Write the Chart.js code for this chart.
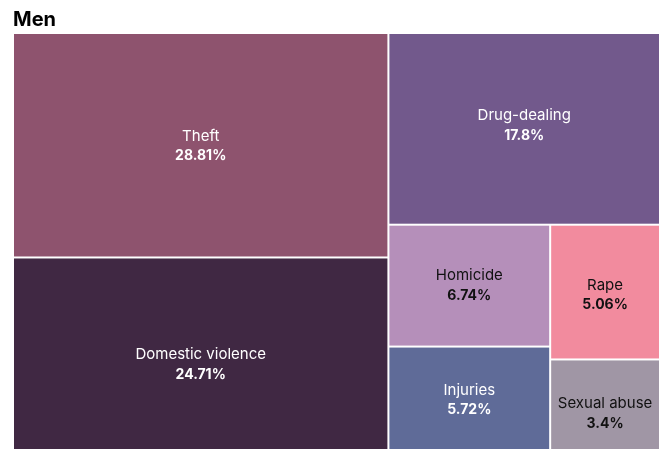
<!DOCTYPE html>
<html>
<head>
<meta charset="utf-8">
<script src="https://cdn.jsdelivr.net/npm/chart.js@4.4.1/dist/chart.umd.min.js"></script>
<style>
  html,body{margin:0;padding:0;background:#fff;}
  #wrap{width:662px;height:450px;position:relative;}
</style>
</head>
<body>
<div id="wrap"><canvas id="chart"></canvas></div>
<script>
// data (share of crimes, men)
const categories = ['Theft','Domestic violence','Drug-dealing','Homicide','Injuries','Rape','Sexual abuse'];
const shares = [28.81, 24.71, 17.8, 6.74, 5.72, 5.06, 3.4];
const shareLabels = ['28.81%','24.71%','17.8%','6.74%','5.72%','5.06%','3.4%'];

// styles
const cellColors = ['#8e536e','#402843','#72598c','#b58fba','#5f6b98','#f28b9e','#a096a5'];
const textColors = ['#fff','#fff','#fff','#111','#fff','#111','#111'];
const labelShift = [1, 11, -3, 0, 2, 3, 9];   // small vertical nudges of the labels, px

// squarified treemap layout, values sorted desc
function worst(row, side){
  const s = row.reduce((a,b)=>a+b,0);
  const mx = Math.max(...row), mn = Math.min(...row);
  return Math.max(side*side*mx/(s*s), (s*s)/(side*side*mn));
}
function squarify(vals, x, y, w, h){
  const total = vals.reduce((a,b)=>a+b,0);
  const areas = vals.map(v => v/total*w*h);
  const out = [];
  let i = 0;
  while (i < areas.length){
    const side = Math.min(w,h);
    const row = [areas[i]]; let j = i+1;
    while (j < areas.length && worst([...row, areas[j]], side) <= worst(row, side)){ row.push(areas[j]); j++; }
    const sum = row.reduce((a,b)=>a+b,0);
    if (w >= h){
      const cw = sum/h; let cy = y;
      row.forEach(a => { const ch = a/cw; out.push({x, y:cy, w:cw, h:ch}); cy += ch; });
      x += cw; w -= cw;
    } else {
      const rh = sum/w; let cx = x;
      row.forEach(a => { const rw = a/rh; out.push({x:cx, y, w:rw, h:rh}); cx += rw; });
      y += rh; h -= rh;
    }
    i = j;
  }
  return out;
}

const treemap = {
  id: 'treemap',
  afterDatasetsDraw(chart){
    const {ctx, chartArea:a, scales:{x:sx, y:sy}} = chart;
    const W = a.right - a.left, H = a.bottom - a.top;
    // layout in unit space (aspect kept), then through the scales
    const rects = squarify(shares, 0, 0, W/H, 1).map(r => ({
      x0: sx.getPixelForValue(r.x/(W/H)), x1: sx.getPixelForValue((r.x+r.w)/(W/H)),
      y0: sy.getPixelForValue(r.y), y1: sy.getPixelForValue(r.y+r.h)
    }));
    ctx.save();
    rects.forEach((r,k) => {
      ctx.fillStyle = cellColors[k];
      ctx.fillRect(r.x0+1, r.y0+1, r.x1-r.x0-2, r.y1-r.y0-2);
      const cx = (r.x0+r.x1)/2, cy = (r.y0+r.y1)/2 + labelShift[k];
      ctx.fillStyle = textColors[k];
      ctx.textAlign = 'center'; ctx.textBaseline = 'middle';
      ctx.font = '15px Inter';
      ctx.fillText(categories[k], cx, cy-10);
      ctx.font = 'bold 14px Inter';
      ctx.fillText(shareLabels[k], cx, cy+10);
    });
    ctx.restore();
  }
};

new Chart(document.getElementById('chart'), {
  type: 'scatter',
  data: { labels: categories, datasets: [{ data: [] }] },
  options: {
    responsive: true, maintainAspectRatio: false, animation: false,
    layout: { padding: { top: 8, left: 13, right: 2, bottom: 0 } },
    scales: {
      x: { display: false, min: 0, max: 1 },
      y: { display: false, min: 0, max: 1, reverse: true }
    },
    plugins: {
      legend: { display: false }, tooltip: { enabled: false },
      title: { display: true, text: 'Men', align: 'start', color: '#000',
        font: { family: 'Inter', size: 20, weight: 'bold' }, padding: { top: 0, bottom: 1 } }
    }
  },
  plugins: [treemap]
});
</script>
</body>
</html>
